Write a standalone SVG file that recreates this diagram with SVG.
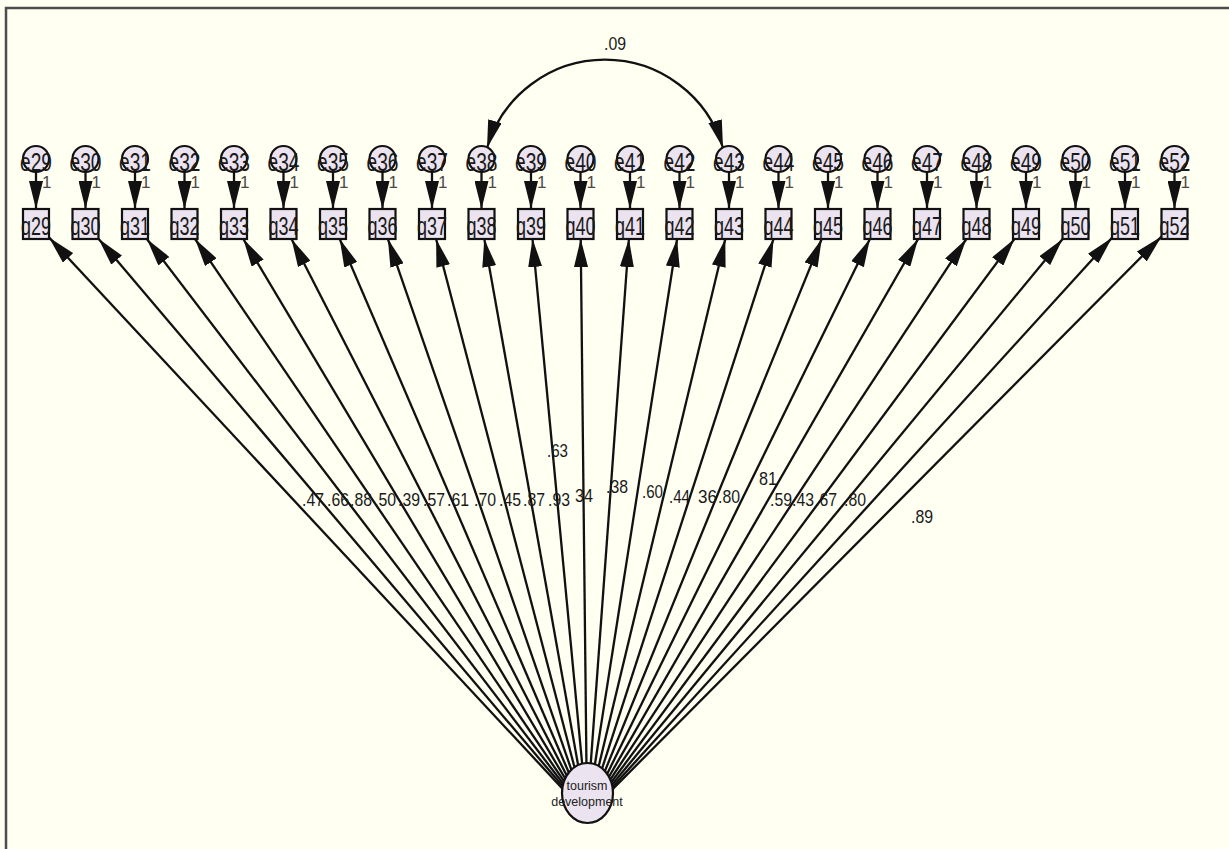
<svg xmlns="http://www.w3.org/2000/svg" width="1229" height="849" viewBox="0 0 1229 849">
<defs>
<style>
.bg{fill:#fffff2}
.frame{fill:none;stroke:#4d4d4d;stroke-width:2.5}
.node{fill:#ebe3ef;stroke:#111;stroke-width:2.2}
.lbl{font-family:"Liberation Sans",Arial,sans-serif;font-size:25px;fill:#1a1a1a;text-anchor:middle}
.one{font-family:"Liberation Sans",Arial,sans-serif;font-size:17px;fill:#4a4a4a}
.val{font-family:"Liberation Sans",Arial,sans-serif;font-size:19px;fill:#1a1a1a}
.lat{font-family:"Liberation Sans",Arial,sans-serif;font-size:12.5px;fill:#222;text-anchor:middle}
.path{stroke:#111;stroke-width:2.3;fill:none;marker-end:url(#ah)}
</style>
<marker id="ah" viewBox="0 0 28 14" refX="28" refY="7" markerWidth="28" markerHeight="14" markerUnits="userSpaceOnUse" orient="auto">
<path d="M0,0 L28,7 L0,14 z" fill="#111"/>
</marker>
<marker id="ahs" viewBox="0 0 28 14" refX="28" refY="7" markerWidth="28" markerHeight="14" markerUnits="userSpaceOnUse" orient="auto-start-reverse">
<path d="M0,0 L28,7 L0,14 z" fill="#111"/>
</marker>
</defs>
<rect class="bg" x="0" y="0" width="1229" height="849"/>
<rect class="frame" x="6" y="8" width="1300" height="900"/>

<g id="connectors">
<path d="M487,148 A123,123 0 0 1 723,148" stroke="#111" stroke-width="2.3" fill="none" marker-start="url(#ahs)" marker-end="url(#ahs)"/>
<line class="path" x1="36" y1="172" x2="36" y2="209"/>
<line class="path" x1="85.5" y1="172" x2="85.5" y2="209"/>
<line class="path" x1="135" y1="172" x2="135" y2="209"/>
<line class="path" x1="184.5" y1="172" x2="184.5" y2="209"/>
<line class="path" x1="234" y1="172" x2="234" y2="209"/>
<line class="path" x1="283.5" y1="172" x2="283.5" y2="209"/>
<line class="path" x1="333" y1="172" x2="333" y2="209"/>
<line class="path" x1="382.5" y1="172" x2="382.5" y2="209"/>
<line class="path" x1="432" y1="172" x2="432" y2="209"/>
<line class="path" x1="481.5" y1="172" x2="481.5" y2="209"/>
<line class="path" x1="531" y1="172" x2="531" y2="209"/>
<line class="path" x1="580.5" y1="172" x2="580.5" y2="209"/>
<line class="path" x1="630" y1="172" x2="630" y2="209"/>
<line class="path" x1="679.5" y1="172" x2="679.5" y2="209"/>
<line class="path" x1="729" y1="172" x2="729" y2="209"/>
<line class="path" x1="778.5" y1="172" x2="778.5" y2="209"/>
<line class="path" x1="828" y1="172" x2="828" y2="209"/>
<line class="path" x1="877.5" y1="172" x2="877.5" y2="209"/>
<line class="path" x1="927" y1="172" x2="927" y2="209"/>
<line class="path" x1="976.5" y1="172" x2="976.5" y2="209"/>
<line class="path" x1="1026" y1="172" x2="1026" y2="209"/>
<line class="path" x1="1075.5" y1="172" x2="1075.5" y2="209"/>
<line class="path" x1="1125" y1="172" x2="1125" y2="209"/>
<line class="path" x1="1174.5" y1="172" x2="1174.5" y2="209"/>

<line class="path" x1="587" y1="815" x2="49" y2="237.4"/>
<line class="path" x1="587" y1="815" x2="98.5" y2="238.7"/>
<line class="path" x1="587" y1="815" x2="146.9" y2="239"/>
<line class="path" x1="587" y1="815" x2="195.1" y2="239"/>
<line class="path" x1="587" y1="815" x2="243.3" y2="239"/>
<line class="path" x1="587" y1="815" x2="291.5" y2="239"/>
<line class="path" x1="587" y1="815" x2="339.7" y2="239"/>
<line class="path" x1="587" y1="815" x2="387.9" y2="239"/>
<line class="path" x1="587" y1="815" x2="436.1" y2="239"/>
<line class="path" x1="587" y1="815" x2="484.3" y2="239"/>
<line class="path" x1="587" y1="815" x2="532.5" y2="239"/>
<line class="path" x1="587" y1="815" x2="580.7" y2="239"/>
<line class="path" x1="587" y1="815" x2="628.9" y2="239"/>
<line class="path" x1="587" y1="815" x2="677.1" y2="239"/>
<line class="path" x1="587" y1="815" x2="725.3" y2="239"/>
<line class="path" x1="587" y1="815" x2="773.5" y2="239"/>
<line class="path" x1="587" y1="815" x2="821.7" y2="239"/>
<line class="path" x1="587" y1="815" x2="869.9" y2="239"/>
<line class="path" x1="587" y1="815" x2="918.1" y2="239"/>
<line class="path" x1="587" y1="815" x2="966.3" y2="239"/>
<line class="path" x1="587" y1="815" x2="1014.4" y2="239"/>
<line class="path" x1="587" y1="815" x2="1062.6" y2="239"/>
<line class="path" x1="587" y1="815" x2="1112" y2="237.8"/>
<line class="path" x1="587" y1="815" x2="1161.5" y2="236.6"/>
</g>

<g id="coef">
<text class="val" x="604" y="50" textLength="22" lengthAdjust="spacingAndGlyphs">.09</text>
<text class="val" x="302" y="506" textLength="22" lengthAdjust="spacingAndGlyphs">.47</text>
<text class="val" x="327" y="506" textLength="22" lengthAdjust="spacingAndGlyphs">.66</text>
<text class="val" x="350" y="506" textLength="22" lengthAdjust="spacingAndGlyphs">.88</text>
<text class="val" x="374" y="506" textLength="22" lengthAdjust="spacingAndGlyphs">.50</text>
<text class="val" x="398" y="506" textLength="22" lengthAdjust="spacingAndGlyphs">.39</text>
<text class="val" x="423" y="506" textLength="22" lengthAdjust="spacingAndGlyphs">.57</text>
<text class="val" x="447" y="506" textLength="22" lengthAdjust="spacingAndGlyphs">.61</text>
<text class="val" x="474" y="506" textLength="22" lengthAdjust="spacingAndGlyphs">.70</text>
<text class="val" x="499" y="506" textLength="22" lengthAdjust="spacingAndGlyphs">.45</text>
<text class="val" x="523" y="506" textLength="22" lengthAdjust="spacingAndGlyphs">.87</text>
<text class="val" x="548" y="506" textLength="22" lengthAdjust="spacingAndGlyphs">.93</text>
<text class="val" x="575" y="502" textLength="18" lengthAdjust="spacingAndGlyphs">34</text>
<text class="val" x="547" y="457" textLength="21" lengthAdjust="spacingAndGlyphs">.63</text>
<text class="val" x="606" y="493" textLength="22" lengthAdjust="spacingAndGlyphs">.38</text>
<text class="val" x="642" y="498" textLength="21" lengthAdjust="spacingAndGlyphs">.60</text>
<text class="val" x="669" y="503" textLength="21" lengthAdjust="spacingAndGlyphs">.44</text>
<text class="val" x="698" y="503" textLength="19" lengthAdjust="spacingAndGlyphs">36</text>
<text class="val" x="718" y="503" textLength="22" lengthAdjust="spacingAndGlyphs">.80</text>
<text class="val" x="759" y="485" textLength="18" lengthAdjust="spacingAndGlyphs">81</text>
<text class="val" x="770" y="506" textLength="22" lengthAdjust="spacingAndGlyphs">.59</text>
<text class="val" x="792" y="506" textLength="22" lengthAdjust="spacingAndGlyphs">.43</text>
<text class="val" x="815" y="506" textLength="22" lengthAdjust="spacingAndGlyphs">.67</text>
<text class="val" x="844" y="506" textLength="22" lengthAdjust="spacingAndGlyphs">.80</text>
<text class="val" x="911" y="523" textLength="22" lengthAdjust="spacingAndGlyphs">.89</text>
</g>

<g id="e29"><circle class="node" cx="36" cy="159" r="13"/><text class="lbl" x="36" y="171" textLength="32" lengthAdjust="spacingAndGlyphs">e29</text><text class="one" x="42" y="188">1</text></g>
<g id="e30"><circle class="node" cx="85.5" cy="159" r="13"/><text class="lbl" x="85.5" y="171" textLength="32" lengthAdjust="spacingAndGlyphs">e30</text><text class="one" x="91.5" y="188">1</text></g>
<g id="e31"><circle class="node" cx="135" cy="159" r="13"/><text class="lbl" x="135" y="171" textLength="32" lengthAdjust="spacingAndGlyphs">e31</text><text class="one" x="141" y="188">1</text></g>
<g id="e32"><circle class="node" cx="184.5" cy="159" r="13"/><text class="lbl" x="184.5" y="171" textLength="32" lengthAdjust="spacingAndGlyphs">e32</text><text class="one" x="190.5" y="188">1</text></g>
<g id="e33"><circle class="node" cx="234" cy="159" r="13"/><text class="lbl" x="234" y="171" textLength="32" lengthAdjust="spacingAndGlyphs">e33</text><text class="one" x="240" y="188">1</text></g>
<g id="e34"><circle class="node" cx="283.5" cy="159" r="13"/><text class="lbl" x="283.5" y="171" textLength="32" lengthAdjust="spacingAndGlyphs">e34</text><text class="one" x="289.5" y="188">1</text></g>
<g id="e35"><circle class="node" cx="333" cy="159" r="13"/><text class="lbl" x="333" y="171" textLength="32" lengthAdjust="spacingAndGlyphs">e35</text><text class="one" x="339" y="188">1</text></g>
<g id="e36"><circle class="node" cx="382.5" cy="159" r="13"/><text class="lbl" x="382.5" y="171" textLength="32" lengthAdjust="spacingAndGlyphs">e36</text><text class="one" x="388.5" y="188">1</text></g>
<g id="e37"><circle class="node" cx="432" cy="159" r="13"/><text class="lbl" x="432" y="171" textLength="32" lengthAdjust="spacingAndGlyphs">e37</text><text class="one" x="438" y="188">1</text></g>
<g id="e38"><circle class="node" cx="481.5" cy="159" r="13"/><text class="lbl" x="481.5" y="171" textLength="32" lengthAdjust="spacingAndGlyphs">e38</text><text class="one" x="487.5" y="188">1</text></g>
<g id="e39"><circle class="node" cx="531" cy="159" r="13"/><text class="lbl" x="531" y="171" textLength="32" lengthAdjust="spacingAndGlyphs">e39</text><text class="one" x="537" y="188">1</text></g>
<g id="e40"><circle class="node" cx="580.5" cy="159" r="13"/><text class="lbl" x="580.5" y="171" textLength="32" lengthAdjust="spacingAndGlyphs">e40</text><text class="one" x="586.5" y="188">1</text></g>
<g id="e41"><circle class="node" cx="630" cy="159" r="13"/><text class="lbl" x="630" y="171" textLength="32" lengthAdjust="spacingAndGlyphs">e41</text><text class="one" x="636" y="188">1</text></g>
<g id="e42"><circle class="node" cx="679.5" cy="159" r="13"/><text class="lbl" x="679.5" y="171" textLength="32" lengthAdjust="spacingAndGlyphs">e42</text><text class="one" x="685.5" y="188">1</text></g>
<g id="e43"><circle class="node" cx="729" cy="159" r="13"/><text class="lbl" x="729" y="171" textLength="32" lengthAdjust="spacingAndGlyphs">e43</text><text class="one" x="735" y="188">1</text></g>
<g id="e44"><circle class="node" cx="778.5" cy="159" r="13"/><text class="lbl" x="778.5" y="171" textLength="32" lengthAdjust="spacingAndGlyphs">e44</text><text class="one" x="784.5" y="188">1</text></g>
<g id="e45"><circle class="node" cx="828" cy="159" r="13"/><text class="lbl" x="828" y="171" textLength="32" lengthAdjust="spacingAndGlyphs">e45</text><text class="one" x="834" y="188">1</text></g>
<g id="e46"><circle class="node" cx="877.5" cy="159" r="13"/><text class="lbl" x="877.5" y="171" textLength="32" lengthAdjust="spacingAndGlyphs">e46</text><text class="one" x="883.5" y="188">1</text></g>
<g id="e47"><circle class="node" cx="927" cy="159" r="13"/><text class="lbl" x="927" y="171" textLength="32" lengthAdjust="spacingAndGlyphs">e47</text><text class="one" x="933" y="188">1</text></g>
<g id="e48"><circle class="node" cx="976.5" cy="159" r="13"/><text class="lbl" x="976.5" y="171" textLength="32" lengthAdjust="spacingAndGlyphs">e48</text><text class="one" x="982.5" y="188">1</text></g>
<g id="e49"><circle class="node" cx="1026" cy="159" r="13"/><text class="lbl" x="1026" y="171" textLength="32" lengthAdjust="spacingAndGlyphs">e49</text><text class="one" x="1032" y="188">1</text></g>
<g id="e50"><circle class="node" cx="1075.5" cy="159" r="13"/><text class="lbl" x="1075.5" y="171" textLength="32" lengthAdjust="spacingAndGlyphs">e50</text><text class="one" x="1081.5" y="188">1</text></g>
<g id="e51"><circle class="node" cx="1125" cy="159" r="13"/><text class="lbl" x="1125" y="171" textLength="32" lengthAdjust="spacingAndGlyphs">e51</text><text class="one" x="1131" y="188">1</text></g>
<g id="e52"><circle class="node" cx="1174.5" cy="159" r="13"/><text class="lbl" x="1174.5" y="171" textLength="32" lengthAdjust="spacingAndGlyphs">e52</text><text class="one" x="1180.5" y="188">1</text></g>

<g id="q29"><rect class="node" x="23" y="209" width="26" height="30"/><text class="lbl" x="36" y="235" textLength="30" lengthAdjust="spacingAndGlyphs">q29</text></g>
<g id="q30"><rect class="node" x="72.5" y="209" width="26" height="30"/><text class="lbl" x="85.5" y="235" textLength="30" lengthAdjust="spacingAndGlyphs">q30</text></g>
<g id="q31"><rect class="node" x="122" y="209" width="26" height="30"/><text class="lbl" x="135" y="235" textLength="30" lengthAdjust="spacingAndGlyphs">q31</text></g>
<g id="q32"><rect class="node" x="171.5" y="209" width="26" height="30"/><text class="lbl" x="184.5" y="235" textLength="30" lengthAdjust="spacingAndGlyphs">q32</text></g>
<g id="q33"><rect class="node" x="221" y="209" width="26" height="30"/><text class="lbl" x="234" y="235" textLength="30" lengthAdjust="spacingAndGlyphs">q33</text></g>
<g id="q34"><rect class="node" x="270.5" y="209" width="26" height="30"/><text class="lbl" x="283.5" y="235" textLength="30" lengthAdjust="spacingAndGlyphs">q34</text></g>
<g id="q35"><rect class="node" x="320" y="209" width="26" height="30"/><text class="lbl" x="333" y="235" textLength="30" lengthAdjust="spacingAndGlyphs">q35</text></g>
<g id="q36"><rect class="node" x="369.5" y="209" width="26" height="30"/><text class="lbl" x="382.5" y="235" textLength="30" lengthAdjust="spacingAndGlyphs">q36</text></g>
<g id="q37"><rect class="node" x="419" y="209" width="26" height="30"/><text class="lbl" x="432" y="235" textLength="30" lengthAdjust="spacingAndGlyphs">q37</text></g>
<g id="q38"><rect class="node" x="468.5" y="209" width="26" height="30"/><text class="lbl" x="481.5" y="235" textLength="30" lengthAdjust="spacingAndGlyphs">q38</text></g>
<g id="q39"><rect class="node" x="518" y="209" width="26" height="30"/><text class="lbl" x="531" y="235" textLength="30" lengthAdjust="spacingAndGlyphs">q39</text></g>
<g id="q40"><rect class="node" x="567.5" y="209" width="26" height="30"/><text class="lbl" x="580.5" y="235" textLength="30" lengthAdjust="spacingAndGlyphs">q40</text></g>
<g id="q41"><rect class="node" x="617" y="209" width="26" height="30"/><text class="lbl" x="630" y="235" textLength="30" lengthAdjust="spacingAndGlyphs">q41</text></g>
<g id="q42"><rect class="node" x="666.5" y="209" width="26" height="30"/><text class="lbl" x="679.5" y="235" textLength="30" lengthAdjust="spacingAndGlyphs">q42</text></g>
<g id="q43"><rect class="node" x="716" y="209" width="26" height="30"/><text class="lbl" x="729" y="235" textLength="30" lengthAdjust="spacingAndGlyphs">q43</text></g>
<g id="q44"><rect class="node" x="765.5" y="209" width="26" height="30"/><text class="lbl" x="778.5" y="235" textLength="30" lengthAdjust="spacingAndGlyphs">q44</text></g>
<g id="q45"><rect class="node" x="815" y="209" width="26" height="30"/><text class="lbl" x="828" y="235" textLength="30" lengthAdjust="spacingAndGlyphs">q45</text></g>
<g id="q46"><rect class="node" x="864.5" y="209" width="26" height="30"/><text class="lbl" x="877.5" y="235" textLength="30" lengthAdjust="spacingAndGlyphs">q46</text></g>
<g id="q47"><rect class="node" x="914" y="209" width="26" height="30"/><text class="lbl" x="927" y="235" textLength="30" lengthAdjust="spacingAndGlyphs">q47</text></g>
<g id="q48"><rect class="node" x="963.5" y="209" width="26" height="30"/><text class="lbl" x="976.5" y="235" textLength="30" lengthAdjust="spacingAndGlyphs">q48</text></g>
<g id="q49"><rect class="node" x="1013" y="209" width="26" height="30"/><text class="lbl" x="1026" y="235" textLength="30" lengthAdjust="spacingAndGlyphs">q49</text></g>
<g id="q50"><rect class="node" x="1062.5" y="209" width="26" height="30"/><text class="lbl" x="1075.5" y="235" textLength="30" lengthAdjust="spacingAndGlyphs">q50</text></g>
<g id="q51"><rect class="node" x="1112" y="209" width="26" height="30"/><text class="lbl" x="1125" y="235" textLength="30" lengthAdjust="spacingAndGlyphs">q51</text></g>
<g id="q52"><rect class="node" x="1161.5" y="209" width="26" height="30"/><text class="lbl" x="1174.5" y="235" textLength="30" lengthAdjust="spacingAndGlyphs">q52</text></g>

<g id="tourism_development">
<ellipse class="node" cx="587.5" cy="793" rx="25.5" ry="30"/>
<text class="lat" x="587" y="790">tourism</text>
<text class="lat" x="587" y="806">development</text>
</g>
</svg>
